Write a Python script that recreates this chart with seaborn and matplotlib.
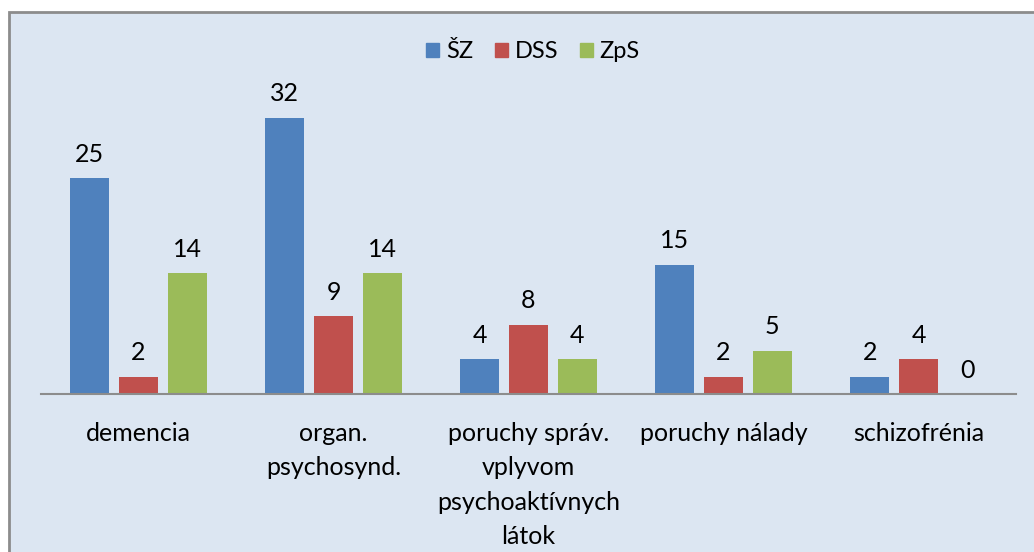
import matplotlib.pyplot as plt
import matplotlib.patches as mpatches
import pandas as pd
import seaborn as sns

categories = [
    "demencia",
    "organ.\npsychosynd.",
    "poruchy správ.\nvplyvom\npsychoaktívnych\nlátok",
    "poruchy nálady",
    "schizofrénia",
]
series = ["ŠZ", "DSS", "ZpS"]
sz_values = [25, 32, 4, 15, 2]
dss_values = [2, 9, 8, 2, 4]
zps_values = [14, 14, 4, 5, 0]
colors = ["#4F81BD", "#C0504D", "#9BBB59"]

df = pd.DataFrame({
    "kategoria": categories * 3,
    "skupina": [s for s in series for _ in categories],
    "pocet": sz_values + dss_values + zps_values,
})

sns.set_style("white")
plt.rcParams["font.family"] = ["Lato", "DejaVu Sans"]

fig = plt.figure(figsize=(10.34, 5.52), dpi=100)
fig.patch.set_facecolor("white")
fig.patches.append(mpatches.Rectangle(
    (9 / 1034, -0.05), 1.1, 1 - 12 / 552 + 0.05,
    transform=fig.transFigure, facecolor="#DCE6F2",
    edgecolor="#8C8C8C", linewidth=2, zorder=-1,
))

ax = fig.add_axes([41 / 1034, 158 / 552, 975 / 1034, 302 / 552])
ax.set_facecolor("none")

sns.barplot(
    data=df, x="kategoria", y="pocet", hue="skupina",
    hue_order=series, palette=colors, order=categories,
    width=0.75, gap=0.2, saturation=1, linewidth=0, ax=ax, legend=False,
)

for container in ax.containers:
    ax.bar_label(container, fmt="%d", padding=9, fontsize=18, color="black")

ax.set_ylim(0, 35)
ax.set_xlim(-0.5, len(categories) - 0.5)
ax.set_xlabel("")
ax.set_ylabel("")
ax.set_yticks([])
ax.tick_params(axis="x", length=0, pad=20, labelsize=18, labelcolor="black")
for lbl in ax.get_xticklabels():
    lbl.set_linespacing(1.6)
for side in ["top", "right", "left"]:
    ax.spines[side].set_visible(False)
ax.spines["bottom"].set_color("#8C8C8C")
ax.spines["bottom"].set_linewidth(1.5)

handles = [mpatches.Patch(color=c, label=s) for c, s in zip(colors, series)]
fig.legend(
    handles=handles, loc="center", bbox_to_anchor=(533 / 1034, 1 - 52 / 552),
    ncol=3, frameon=False, fontsize=17, handlelength=0.55, handleheight=0.55,
    handletextpad=0.3, columnspacing=0.9, labelcolor="black",
)

fig.savefig("out.png", dpi=100)
